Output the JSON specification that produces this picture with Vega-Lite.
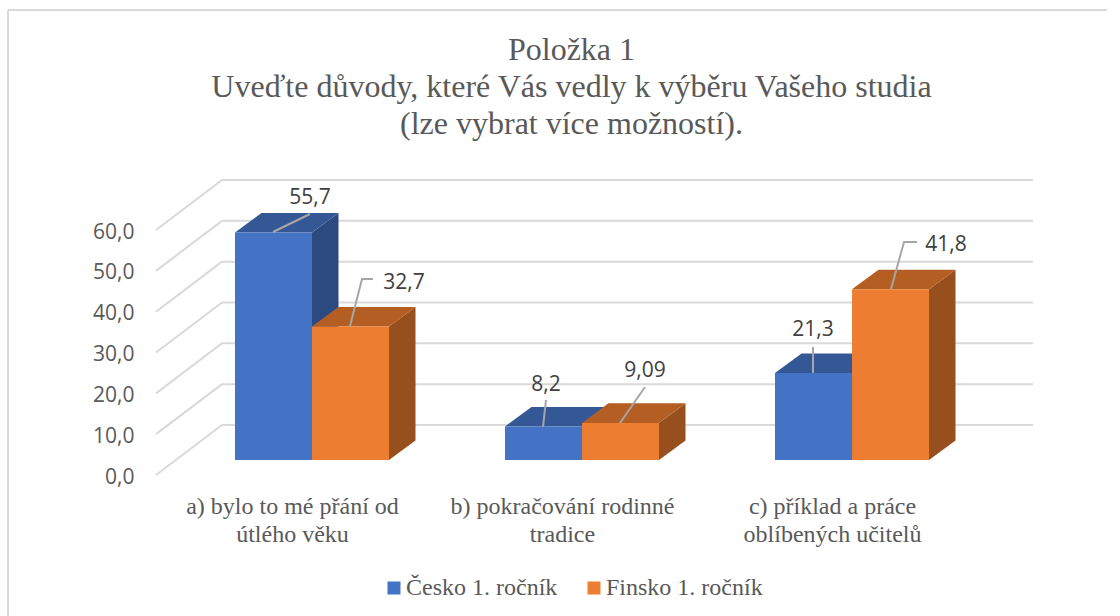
{
"$schema":"https://vega.github.io/schema/vega-lite/v6.json",
"autosize":"none",
"padding":{"left":156,"top":180,"right":87,"bottom":141},
"width":877,"height":295,
"background":"white",
"title":{"text":["Položka 1","Uveďte důvody, které Vás vedly k výběru Vašeho studia","(lze vybrat více možností)."],"font":"Liberation Serif","fontSize":32,"fontWeight":"normal","color":"#595959","lineHeight":37,"anchor":"middle","dx":-23,"offset":0,"dy":132},
"config":{"view":{"stroke":null}},
"datasets":{
"bars":[
{"category":"a) bylo to mé přání od útlého věku","series":"Česko 1. ročník","value":55.7},
{"category":"a) bylo to mé přání od útlého věku","series":"Finsko 1. ročník","value":32.7},
{"category":"b) pokračování rodinné tradice","series":"Česko 1. ročník","value":8.2},
{"category":"b) pokračování rodinné tradice","series":"Finsko 1. ročník","value":9.09},
{"category":"c) příklad a práce oblíbených učitelů","series":"Česko 1. ročník","value":21.3},
{"category":"c) příklad a práce oblíbených učitelů","series":"Finsko 1. ročník","value":41.8}
],
"ticks":[{"tick":0},{"tick":10},{"tick":20},{"tick":30},{"tick":40},{"tick":50},{"tick":60}],
"leaders":[
{"bar":"a1","step":0,"lx":0.4333,"ly":59.51},{"bar":"a1","step":1,"lx":0.5704,"ly":63.92},
{"bar":"a2","step":0,"lx":0.7185,"ly":36.49},{"bar":"a2","step":1,"lx":0.7630,"ly":48.0},{"bar":"a2","step":2,"lx":0.8037,"ly":48.0},
{"bar":"b1","step":0,"lx":1.4333,"ly":11.76},{"bar":"b1","step":1,"lx":1.4444,"ly":18.37},
{"bar":"b2","step":0,"lx":1.7185,"ly":12.74},{"bar":"b2","step":1,"lx":1.8111,"ly":21.55},
{"bar":"c1","step":0,"lx":2.4333,"ly":24.98},{"bar":"c1","step":1,"lx":2.4333,"ly":31.35},
{"bar":"c2","step":0,"lx":2.7222,"ly":45.55},{"bar":"c2","step":1,"lx":2.7704,"ly":57.07},{"bar":"c2","step":2,"lx":2.8185,"ly":57.07}
],
"valueLabels":[
{"label":"55,7","lx":0.5704,"ly":68.33},
{"label":"32,7","lx":0.9185,"ly":47.51},
{"label":"8,2","lx":1.4444,"ly":22.53},
{"label":"9,09","lx":1.8111,"ly":25.96},
{"label":"21,3","lx":2.4333,"ly":36.0},
{"label":"41,8","lx":2.9259,"ly":56.82}
]
},
"layer":[
{"data":{"name":"ticks"},
 "transform":[{"calculate":"datum.tick+12.25","as":"back"},{"calculate":"0","as":"fx"},{"calculate":"0.2444","as":"bx"}],
 "mark":{"type":"rule","color":"#d9d9d9","strokeWidth":2},
 "encoding":{
  "x":{"field":"fx","type":"quantitative","scale":{"domain":[0,3.2481],"nice":false,"zero":false},
    "axis":{"values":[0.5037,1.5037,2.5037],"title":null,"domain":false,"ticks":false,"grid":false,"labelOverlap":false,"labelBound":false,"labelFlush":false,"labelPadding":19,"labelLimit":400,"labelFont":"Liberation Serif","labelFontSize":24,"labelColor":"#595959","labelLineHeight":28,"labelBaseline":"top","labelAlign":"center",
    "labelExpr":"datum.value<1?['a) bylo to mé přání od','útlého věku']:datum.value<2?['b) pokračování rodinné','tradice']:['c) příklad a práce','oblíbených učitelů']"}},
  "x2":{"field":"bx"},
  "y":{"field":"tick","type":"quantitative","scale":{"domain":[0,72.25],"nice":false,"zero":false},
    "axis":{"values":[0,10,20,30,40,50,60],"title":null,"domain":false,"ticks":false,"grid":false,"labelPadding":22,"labelOffset":2,"labelFont":"Open Sans","labelFontSize":21,"labelColor":"#595959",
    "labelExpr":"replace(format(datum.value,'.1f'),'.',',')"}},
  "y2":{"field":"back"}
 }},
{"data":{"name":"ticks"},
 "transform":[{"calculate":"datum.tick+12.25","as":"back"},{"calculate":"0.2444","as":"bx"},{"calculate":"3.2481","as":"ex"}],
 "mark":{"type":"rule","color":"#d9d9d9","strokeWidth":2},
 "encoding":{
  "x":{"field":"bx","type":"quantitative","axis":{"title":null},"scale":{"domain":[0,3.2481],"nice":false,"zero":false}},
  "x2":{"field":"ex"},
  "y":{"field":"back","type":"quantitative","axis":{"title":null},"scale":{"domain":[0,72.25],"nice":false,"zero":false}}
 }},
{"data":{"name":"bars"},
 "transform":[{"filter":"indexof(datum.series,'Česko')==0"},
  {"calculate":"indexof(['a','b','c'],slice(datum.category,0,1))+0.5778","as":"c"},
  {"calculate":"[0,1]","as":"pt"},{"flatten":["pt"]},
  {"calculate":"datum.c+datum.pt*0.0981","as":"px"},
  {"calculate":"3.674+datum.pt*4.78","as":"lo"},
  {"calculate":"datum.lo+datum.value","as":"hi"}],
 "mark":{"type":"area","color":"#2c4a80"},
 "encoding":{
  "x":{"field":"px","type":"quantitative","axis":{"title":null},"scale":{"domain":[0,3.2481],"nice":false,"zero":false}},
  "y":{"field":"lo","type":"quantitative","stack":null,"axis":{"title":null},"scale":{"domain":[0,72.25],"nice":false,"zero":false}},
  "y2":{"field":"hi"},
  "detail":{"field":"category"}
 }},
{"data":{"name":"bars"},
 "transform":[{"filter":"indexof(datum.series,'Česko')==0"},
  {"calculate":"indexof(['a','b','c'],slice(datum.category,0,1))+0.5778","as":"c"},
  {"calculate":"[0,1,2,3]","as":"pt"},{"flatten":["pt"]},
  {"calculate":"[datum.c-0.2852,datum.c-0.2852+0.0981,datum.c,datum.c+0.0981][datum.pt]","as":"px"},
  {"calculate":"3.674+datum.value+(datum.pt==3?4.78:0)","as":"lo"},
  {"calculate":"3.674+datum.value+(datum.pt==0?0:4.78)","as":"hi"}],
 "mark":{"type":"area","color":"#335895"},
 "encoding":{
  "x":{"field":"px","type":"quantitative","axis":{"title":null},"scale":{"domain":[0,3.2481],"nice":false,"zero":false}},
  "y":{"field":"lo","type":"quantitative","stack":null,"axis":{"title":null},"scale":{"domain":[0,72.25],"nice":false,"zero":false}},
  "y2":{"field":"hi"},
  "detail":{"field":"category"}
 }},
{"data":{"name":"bars"},
 "transform":[{"filter":"indexof(datum.series,'Česko')==0"},
  {"calculate":"indexof(['a','b','c'],slice(datum.category,0,1))+0.5778","as":"c"},
  {"calculate":"datum.c-0.2852","as":"l"},
  {"calculate":"3.674","as":"lo"},
  {"calculate":"3.674+datum.value","as":"hi"}],
 "mark":{"type":"rect"},
 "encoding":{
  "x":{"field":"l","type":"quantitative","axis":{"title":null},"scale":{"domain":[0,3.2481],"nice":false,"zero":false}},
  "x2":{"field":"c"},
  "y":{"field":"lo","type":"quantitative","axis":{"title":null},"scale":{"domain":[0,72.25],"nice":false,"zero":false}},
  "y2":{"field":"hi"},
  "color":{"field":"series","type":"nominal","scale":{"domain":["Česko 1. ročník","Finsko 1. ročník"],"range":["#4472c4","#ed7d31"]},
   "legend":{"orient":"none","legendX":226,"legendY":396,"direction":"horizontal","title":null,"symbolType":"square","symbolSize":169,"symbolStrokeWidth":0,"labelFont":"Liberation Serif","labelFontSize":24,"labelColor":"#595959","labelOffset":0,"labelLimit":300,"columnPadding":24}}
 }},
{"data":{"name":"bars"},
 "transform":[{"filter":"indexof(datum.series,'Finsko')==0"},
  {"calculate":"indexof(['a','b','c'],slice(datum.category,0,1))+0.5778","as":"c"},
  {"calculate":"[0,1]","as":"pt"},{"flatten":["pt"]},
  {"calculate":"datum.c+0.2852+datum.pt*0.0981","as":"px"},
  {"calculate":"3.674+datum.pt*4.78","as":"lo"},
  {"calculate":"datum.lo+datum.value","as":"hi"}],
 "mark":{"type":"area","color":"#97501d"},
 "encoding":{
  "x":{"field":"px","type":"quantitative","axis":{"title":null},"scale":{"domain":[0,3.2481],"nice":false,"zero":false}},
  "y":{"field":"lo","type":"quantitative","stack":null,"axis":{"title":null},"scale":{"domain":[0,72.25],"nice":false,"zero":false}},
  "y2":{"field":"hi"},
  "detail":{"field":"category"}
 }},
{"data":{"name":"bars"},
 "transform":[{"filter":"indexof(datum.series,'Finsko')==0"},
  {"calculate":"indexof(['a','b','c'],slice(datum.category,0,1))+0.5778","as":"c"},
  {"calculate":"[0,1,2,3]","as":"pt"},{"flatten":["pt"]},
  {"calculate":"[datum.c,datum.c+0.0981,datum.c+0.2852,datum.c+0.2852+0.0981][datum.pt]","as":"px"},
  {"calculate":"3.674+datum.value+(datum.pt==3?4.78:0)","as":"lo"},
  {"calculate":"3.674+datum.value+(datum.pt==0?0:4.78)","as":"hi"}],
 "mark":{"type":"area","color":"#b55e23"},
 "encoding":{
  "x":{"field":"px","type":"quantitative","axis":{"title":null},"scale":{"domain":[0,3.2481],"nice":false,"zero":false}},
  "y":{"field":"lo","type":"quantitative","stack":null,"axis":{"title":null},"scale":{"domain":[0,72.25],"nice":false,"zero":false}},
  "y2":{"field":"hi"},
  "detail":{"field":"category"}
 }},
{"data":{"name":"bars"},
 "transform":[{"filter":"indexof(datum.series,'Finsko')==0"},
  {"calculate":"indexof(['a','b','c'],slice(datum.category,0,1))+0.5778","as":"c"},
  {"calculate":"datum.c+0.2852","as":"r"},
  {"calculate":"3.674","as":"lo"},
  {"calculate":"3.674+datum.value","as":"hi"}],
 "mark":{"type":"rect"},
 "encoding":{
  "x":{"field":"c","type":"quantitative","axis":{"title":null},"scale":{"domain":[0,3.2481],"nice":false,"zero":false}},
  "x2":{"field":"r"},
  "y":{"field":"lo","type":"quantitative","axis":{"title":null},"scale":{"domain":[0,72.25],"nice":false,"zero":false}},
  "y2":{"field":"hi"},
  "color":{"field":"series","type":"nominal","scale":{"domain":["Česko 1. ročník","Finsko 1. ročník"],"range":["#4472c4","#ed7d31"]},"legend":null}
 }},
{"data":{"name":"leaders"},
 "mark":{"type":"line","color":"#a6a6a6","strokeWidth":2},
 "encoding":{
  "x":{"field":"lx","type":"quantitative","axis":{"title":null},"scale":{"domain":[0,3.2481],"nice":false,"zero":false}},
  "y":{"field":"ly","type":"quantitative","axis":{"title":null},"scale":{"domain":[0,72.25],"nice":false,"zero":false}},
  "detail":{"field":"bar"},
  "order":{"field":"step"}
 }},
{"data":{"name":"valueLabels"},
 "mark":{"type":"text","font":"Open Sans","fontSize":21,"color":"#404040","align":"center","baseline":"middle","dy":2},
 "encoding":{
  "x":{"field":"lx","type":"quantitative","axis":{"title":null},"scale":{"domain":[0,3.2481],"nice":false,"zero":false}},
  "y":{"field":"ly","type":"quantitative","axis":{"title":null},"scale":{"domain":[0,72.25],"nice":false,"zero":false}},
  "text":{"field":"label"}
 }},
{"data":{"values":[{"a":-0.548,"c":113.9,"d":-40}]},
 "mark":{"type":"rule","color":"#d9d9d9","strokeWidth":2},
 "encoding":{
  "x":{"field":"a","type":"quantitative","axis":{"title":null},"scale":{"domain":[0,3.2481],"nice":false,"zero":false}},
  "y":{"field":"c","type":"quantitative","axis":{"title":null},"scale":{"domain":[0,72.25],"nice":false,"zero":false}},
  "y2":{"field":"d"}
 }},
{"data":{"values":[{"a":-0.548,"b":3.522,"c":113.9}]},
 "mark":{"type":"rule","color":"#d9d9d9","strokeWidth":2},
 "encoding":{
  "x":{"field":"a","type":"quantitative","axis":{"title":null},"scale":{"domain":[0,3.2481],"nice":false,"zero":false}},
  "x2":{"field":"b"},
  "y":{"field":"c","type":"quantitative","axis":{"title":null},"scale":{"domain":[0,72.25],"nice":false,"zero":false}}
 }}
]
}
